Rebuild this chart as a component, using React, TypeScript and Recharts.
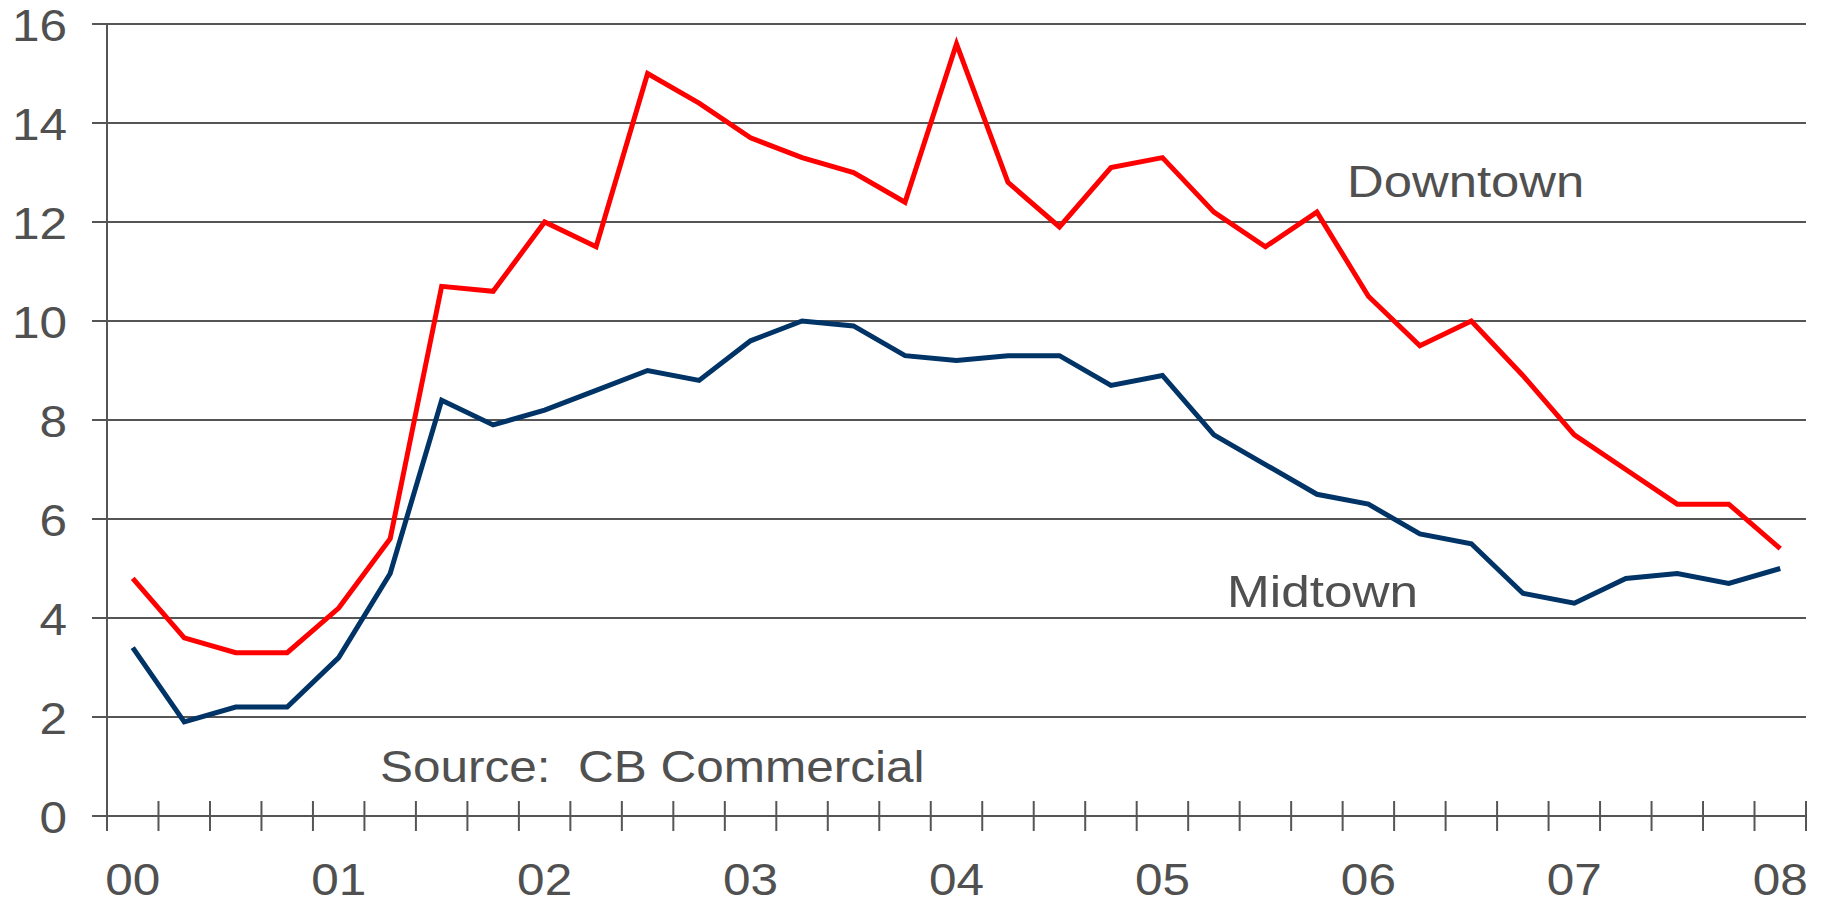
import React from 'react';
import { LineChart, Line, XAxis, YAxis, CartesianGrid } from 'recharts';

// quarterly values, 2000 Q1 .. 2008 Q1
const downtown = [
  4.8, 3.6, 3.3, 3.3, 4.2, 5.6, 10.7, 10.6, 12.0, 11.5, 15.0, 14.4, 13.7, 13.3, 13.0, 12.4,
  15.6, 12.8, 11.9, 13.1, 13.3, 12.2, 11.5, 12.2, 10.5, 9.5, 10.0, 8.9, 7.7, 7.0, 6.3, 6.3, 5.4,
];
const midtown = [
  3.4, 1.9, 2.2, 2.2, 3.2, 4.9, 8.4, 7.9, 8.2, 8.6, 9.0, 8.8, 9.6, 10.0, 9.9, 9.3,
  9.2, 9.3, 9.3, 8.7, 8.9, 7.7, 7.1, 6.5, 6.3, 5.7, 5.5, 4.5, 4.3, 4.8, 4.9, 4.7, 5.0,
];
const yearLabels = ['00', '01', '02', '03', '04', '05', '06', '07', '08'];
const yTicks = [0, 2, 4, 6, 8, 10, 12, 14, 16];

const FONT = '"Liberation Sans", Arial, sans-serif';
const FONT_SIZE = 45;
const STRETCH = 1.1; // glyphs in the original are a bit wider than plain Arial
const TEXT_COLOR = '#505050';
const AXIS_COLOR = '#555555';

const W = 1824;
const H = 905;

// each quarter sits in the middle of its band
const data = downtown.map((v, i) => ({ x: i + 0.5, downtown: v, midtown: midtown[i] }));

// tick marks on the band edges, year labels in the band centre every 4 quarters
const bandEdges = Array.from({ length: downtown.length + 1 }, (_, i) => i);
const labelPos = yearLabels.map((_, i) => i * 4 + 0.5);
const xTicks = [...bandEdges, ...labelPos].sort((a, b) => a - b);

const Txt = ({ x, y, anchor, stretch = STRETCH, children }: any) => (
  <text
    transform={`translate(${x},${y}) scale(${stretch},1)`}
    textAnchor={anchor}
    fill={TEXT_COLOR}
    fontSize={FONT_SIZE}
    fontFamily={FONT}
  >
    {children}
  </text>
);

const XTick = (props: any) => {
  const { x, y, payload } = props;
  const v = payload.value;
  if (Number.isInteger(v)) {
    return <line x1={x} x2={x} y1={y - 15} y2={y + 15} stroke={AXIS_COLOR} strokeWidth={2} />;
  }
  const idx = labelPos.indexOf(v);
  return <Txt x={x} y={y + 79} anchor="middle">{yearLabels[idx]}</Txt>;
};

const YTick = (props: any) => {
  const { x, y, payload } = props;
  return <Txt x={x} y={y + 17} anchor="end">{payload.value}</Txt>;
};

const App: React.FC = () => {
  return (
    <div style={{ position: 'relative', width: W, height: H, background: '#fff' }}>
      <style>{'body{margin:0}'}</style>
      <LineChart width={W} height={H} data={data} margin={{ top: 24, right: 18, bottom: 0, left: 0 }}>
        <CartesianGrid vertical={false} stroke={AXIS_COLOR} strokeWidth={2} />
        <XAxis
          type="number"
          dataKey="x"
          domain={[0, downtown.length]}
          ticks={xTicks}
          interval={0}
          height={89}
          tickSize={0}
          tickMargin={0}
          tickLine={false}
          axisLine={{ stroke: AXIS_COLOR, strokeWidth: 2 }}
          tick={<XTick />}
        />
        <YAxis
          domain={[0, 16]}
          ticks={yTicks}
          interval={0}
          width={107}
          tickSize={15}
          tickMargin={25}
          axisLine={{ stroke: AXIS_COLOR, strokeWidth: 2 }}
          tickLine={{ stroke: AXIS_COLOR, strokeWidth: 2 }}
          tick={<YTick />}
        />
        <YAxis
          yAxisId="right"
          orientation="right"
          domain={[0, 16]}
          width={0}
          tick={false}
          tickLine={false}
          axisLine={{ stroke: AXIS_COLOR, strokeWidth: 2 }}
        />
        <Line type="linear" dataKey="midtown" stroke="#003366" strokeWidth={5} dot={false} isAnimationActive={false} />
        <Line type="linear" dataKey="downtown" stroke="#ff0000" strokeWidth={5} dot={false} isAnimationActive={false} />
      </LineChart>
      <svg width={W} height={H} style={{ position: 'absolute', left: 0, top: 0, pointerEvents: 'none' }}>
        <Txt x={1347} y={197} anchor="start" stretch={1.13}>Downtown</Txt>
        <Txt x={1227} y={607} anchor="start" stretch={1.14}>Midtown</Txt>
        <Txt x={380} y={782} anchor="start">{'Source:\u00a0 CB Commercial'}</Txt>
      </svg>
    </div>
  );
};

export default App;
